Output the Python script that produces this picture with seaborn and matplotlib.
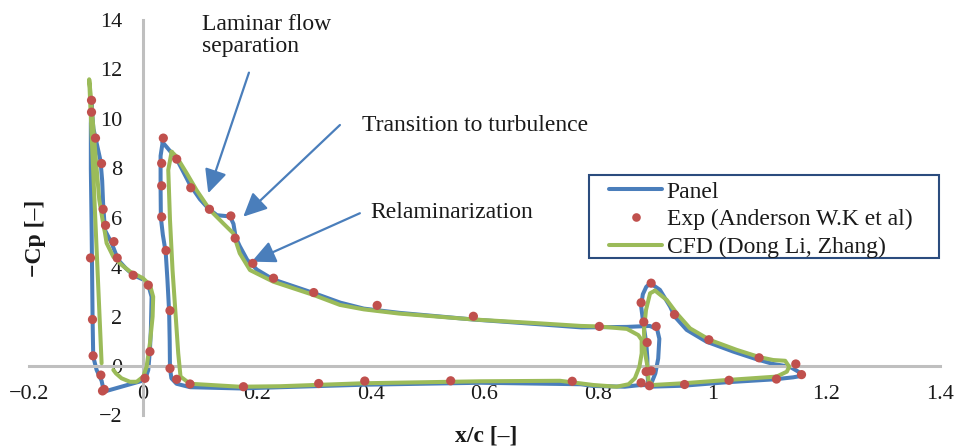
import numpy as np
import pandas as pd
import matplotlib.pyplot as plt
import seaborn as sns
from matplotlib.lines import Line2D
from matplotlib.patches import Rectangle

# --- data (x/c, -Cp) ---
slat_panel_x = [-0.0905, -0.0870, -0.0830, -0.0745, -0.0716, -0.0700, -0.0668, -0.0550, -0.0434,
                -0.0300, -0.0170, 0.0000, 0.0094, 0.0152, 0.0140, 0.0123, 0.0094, 0.0035,
                -0.0685, -0.0726, -0.0814, -0.0873, -0.0884, -0.0901, -0.0915, -0.0915, -0.0905]
slat_panel_y = [10.6, 9.6, 9.2, 8.3, 7.5, 6.6, 5.5, 4.97, 4.29,
                3.95, 3.68, 3.5, 3.28, 2.8, 1.5, 0.65, -0.16, -0.57,
                -1.04, -0.6, -0.16, 0.38, 1.86, 5.5, 8.0, 9.8, 10.6]

main_panel_x = [0.0346, 0.0420, 0.0593, 0.0830, 0.1000, 0.1150, 0.1300, 0.1530, 0.1590, 0.1630,
                0.1700, 0.1830, 0.2000, 0.2290, 0.3000, 0.3470, 0.3880, 0.4500, 0.5800, 0.7000,
                0.7700, 0.8500, 0.8900, 0.9030, 0.9070, 0.9050, 0.9000, 0.8930, 0.8850,
                0.8750, 0.8460, 0.7910, 0.7690, 0.5930, 0.3870, 0.2410, 0.1710, 0.0830, 0.0590,
                0.0500, 0.0475, 0.0470, 0.0460, 0.0430, 0.0400, 0.0350, 0.0315, 0.0310, 0.0310, 0.0346]
main_panel_y = [9.05, 8.85, 8.37, 7.32, 6.75, 6.37, 6.10, 6.05, 5.75, 5.20,
                4.85, 4.30, 3.90, 3.50, 2.95, 2.56, 2.32, 2.15, 1.88, 1.68,
                1.56, 1.58, 1.62, 1.50, 1.10, 0.30, -0.30, -0.70, -0.78,
                -0.77, -0.84, -0.81, -0.74, -0.68, -0.76, -0.86, -0.91, -0.86, -0.72,
                -0.50, -0.10, 1.00, 2.20, 3.50, 4.60, 5.30, 6.00, 7.20, 8.50, 9.05]

flap_panel_x = [0.891, 0.908, 0.926, 0.934, 0.955, 0.990, 1.037, 1.078, 1.107, 1.136, 1.151, 1.157,
                1.142, 1.110, 1.025, 0.949, 0.888, 0.886, 0.886, 0.884, 0.879, 0.875, 0.878, 0.884, 0.891]
flap_panel_y = [3.35, 3.08, 2.40, 2.00, 1.46, 0.98, 0.58, 0.27, 0.08, -0.03, -0.23, -0.40,
                -0.46, -0.54, -0.66, -0.80, -0.84, -0.30, 0.30, 0.93, 1.70, 2.42, 2.90, 3.20, 3.35]

slat_cfd_x = [-0.0726, -0.0944, -0.0919, -0.0873, -0.0826, -0.0767, -0.0708, -0.0668, -0.0638, -0.0520,
              -0.0380, -0.0228, 0.0000, 0.0123, 0.0180, 0.0170, 0.0123, 0.0065, 0.0006, -0.0110,
              -0.0228, -0.0375, -0.0474, -0.0520]
slat_cfd_y = [0.11, 11.6, 11.0, 9.68, 8.34, 6.72, 5.9, 5.4, 4.97, 4.42,
              4.10, 3.82, 3.55, 3.28, 2.8, 2.0, 0.92, -0.03, -0.43, -0.64,
              -0.64, -0.50, -0.30, -0.16]

main_cfd_x = [0.0504, 0.0590, 0.0768, 0.0940, 0.1177, 0.1410, 0.1586, 0.1700, 0.1880, 0.2290,
              0.3000, 0.3460, 0.3880, 0.4500, 0.5815, 0.7000, 0.7690, 0.8000, 0.8500, 0.8700,
              0.8760, 0.8760, 0.8720, 0.8640, 0.8530, 0.8320, 0.7910, 0.7325, 0.5930, 0.3870,
              0.2410, 0.1700, 0.0826, 0.0660, 0.0620, 0.0580, 0.0520, 0.0475, 0.0445, 0.0504]
main_cfd_y = [8.67, 8.47, 7.80, 7.12, 6.31, 5.77, 5.37, 4.56, 3.88, 3.41,
              2.87, 2.47, 2.29, 2.12, 1.88, 1.72, 1.62, 1.60, 1.50, 1.25,
              1.05, 0.51, -0.03, -0.50, -0.74, -0.84, -0.77, -0.60, -0.62, -0.70,
              -0.82, -0.84, -0.72, -0.43, 0.51, 1.86, 3.88, 5.91, 7.93, 8.67]

flap_cfd_x = [0.8994, 0.920, 0.9375, 0.961, 0.996, 1.043, 1.084, 1.107, 1.128, 1.135, 1.131, 1.113,
              1.025, 0.949, 0.896, 0.888, 0.886, 0.881, 0.880, 0.8836, 0.8907, 0.8994]
flap_cfd_y = [3.05, 2.67, 2.13, 1.52, 1.05, 0.65, 0.35, 0.24, 0.21, -0.03, -0.23, -0.43,
              -0.57, -0.70, -0.77, -0.60, 0.00, 0.65, 1.46, 2.27, 2.94, 3.05]

exp_x = [-0.0903, -0.0903, -0.0833, -0.0727, -0.0699, -0.0657, -0.0510, -0.0452, -0.0171, 0.0094,
         0.0123, 0.0035, -0.0921, -0.0886, -0.0875, -0.0739, -0.0710, -0.0680,
         0.0358, 0.0329, 0.0329, 0.0329, 0.0405, 0.0475, 0.0475, 0.0593, 0.0827, 0.0593,
         0.0840, 0.1168, 0.1544, 0.1620, 0.1930, 0.2294, 0.3000, 0.4114, 0.5804, 0.8016,
         0.1766, 0.3087, 0.3896, 0.5405, 0.7540,
         0.8926, 0.8750, 0.8797, 0.8856, 0.9014, 0.8838, 0.8926, 0.8750, 0.8896, 0.9336,
         0.9940, 1.0822, 1.1467, 1.1567, 1.1127, 1.0294, 0.9513]
exp_y = [10.75, 10.27, 9.22, 8.19, 6.34, 5.69, 5.03, 4.37, 3.67, 3.27,
         0.58, -0.50, 4.37, 1.88, 0.41, -0.37, -1.01, -0.95,
         9.22, 8.20, 7.29, 6.03, 4.67, 2.24, -0.10, -0.54, -0.73, 8.37,
         7.21, 6.34, 6.07, 5.17, 4.15, 3.55, 2.97, 2.45, 2.01, 1.60,
         -0.84, -0.71, -0.61, -0.60, -0.62,
         3.35, 2.56, 1.78, 0.95, 1.60, -0.23, -0.20, -0.68, -0.80, 2.08,
         1.06, 0.33, 0.08, -0.35, -0.53, -0.58, -0.75]

x_ticks = [-0.2, 0.0, 0.2, 0.4, 0.6, 0.8, 1.0, 1.2, 1.4]
x_tick_labels = ['\u22120.2', '0', '0.2', '0.4', '0.6', '0.8', '1', '1.2', '1.4']
y_ticks = [-2, 0, 2, 4, 6, 8, 10, 12, 14]
y_tick_labels = ['\u22122', '0', '2', '4', '6', '8', '10', '12', '14']

BLUE = '#4a7ebb'
RED = '#c0504d'
GREEN = '#9bbb59'
AXIS_GRAY = '#bfbfbf'

sns.set_style('white')
plt.rcParams['font.family'] = ['Liberation Serif', 'DejaVu Serif']
plt.rcParams['text.color'] = '#1a1a1a'


def element_frame(parts):
    frames = [pd.DataFrame({'x': px, 'y': py, 'element': name}) for name, px, py in parts]
    return pd.concat(frames, ignore_index=True)


panel = element_frame([('slat', slat_panel_x, slat_panel_y),
                       ('main', main_panel_x, main_panel_y),
                       ('flap', flap_panel_x, flap_panel_y)])
cfd = element_frame([('slat', slat_cfd_x, slat_cfd_y),
                     ('main', main_cfd_x, main_cfd_y),
                     ('flap', flap_cfd_x, flap_cfd_y)])

fig = plt.figure(figsize=(9.56, 4.48), dpi=100)
ax = fig.add_axes([0.0304, 0.0728, 0.9529, 0.8826])

sns.lineplot(data=panel, x='x', y='y', units='element', estimator=None, sort=False,
             color=BLUE, lw=2.9, ax=ax, legend=False, zorder=2, solid_joinstyle='round')
sns.lineplot(data=cfd, x='x', y='y', units='element', estimator=None, sort=False,
             color=GREEN, lw=2.9, ax=ax, legend=False, zorder=3, solid_joinstyle='round')
sns.scatterplot(x=exp_x, y=exp_y, color=RED, s=44, edgecolor='none', ax=ax, legend=False, zorder=4)

ax.set_xlim(-0.2, 1.4)
ax.set_ylim(-2, 14)
ax.set_xlabel('')
ax.set_ylabel('')
ax.spines['left'].set_position(('data', 0))
ax.spines['bottom'].set_position(('data', 0))
for side in ['top', 'right']:
    ax.spines[side].set_visible(False)
for side in ['left', 'bottom']:
    ax.spines[side].set_color(AXIS_GRAY)
    ax.spines[side].set_linewidth(2.2)
ax.set_xticks(x_ticks)
ax.set_xticklabels(x_tick_labels)
ax.set_yticks(y_ticks)
ax.set_yticklabels(y_tick_labels)
ax.tick_params(axis='x', length=0, pad=14, labelsize=16, colors='#1a1a1a')
ax.tick_params(axis='y', length=0, pad=15, labelsize=16, colors='#1a1a1a')
ax.patch.set_alpha(0)

fig.text(35 / 956, 1 - 238 / 448, '\u2212Cp [\u2013]', rotation=90, ha='center', va='center',
         fontsize=17, fontweight='bold')
fig.text(486 / 956, 1 - 436 / 448, 'x/c [\u2013]', ha='center', va='center',
         fontsize=17, fontweight='bold')

# annotations
arrow_kw = dict(arrowstyle='-|>,head_length=0.8,head_width=0.38', mutation_scale=18,
                color=BLUE, lw=1.6, shrinkA=0, shrinkB=0)
ax.annotate('', xy=(0.1147, 6.99), xytext=(0.1862, 11.87), arrowprops=arrow_kw)
ax.annotate('', xy=(0.1762, 6.04), xytext=(0.346, 9.75), arrowprops=arrow_kw)
ax.annotate('', xy=(0.191, 4.22), xytext=(0.381, 6.18), arrowprops=arrow_kw)
ax.text(0.103, 13.37, 'Laminar flow\nseparation', ha='left', va='center', fontsize=17, linespacing=1.05)
ax.text(0.384, 9.75, 'Transition to turbulence', ha='left', va='center', fontsize=17)
ax.text(0.399, 6.2, 'Relaminarization', ha='left', va='center', fontsize=17)

# legend with Excel-like box
fig.patches.append(Rectangle((589 / 956, 1 - 258 / 448), 350 / 956, 83 / 448,
                             transform=fig.transFigure, fill=True, facecolor='white',
                             edgecolor='#2b4c7e', lw=1.5, zorder=5))
handles = [Line2D([], [], color=BLUE, lw=2.9),
           Line2D([], [], color=RED, marker='o', ls='', markersize=6.2, markeredgewidth=0),
           Line2D([], [], color=GREEN, lw=2.9)]
labels = ['Panel', 'Exp (Anderson W.K et al)', 'CFD (Dong Li, Zhang)']
leg = fig.legend(handles, labels, loc='upper left', bbox_to_anchor=(609 / 956, 1 - 181 / 448),
                 frameon=False, fontsize=17, borderpad=0, borderaxespad=0,
                 handlelength=2.25, handletextpad=0.2, labelspacing=0.26)
leg.set_zorder(6)

fig.savefig('out.png', dpi=100)
